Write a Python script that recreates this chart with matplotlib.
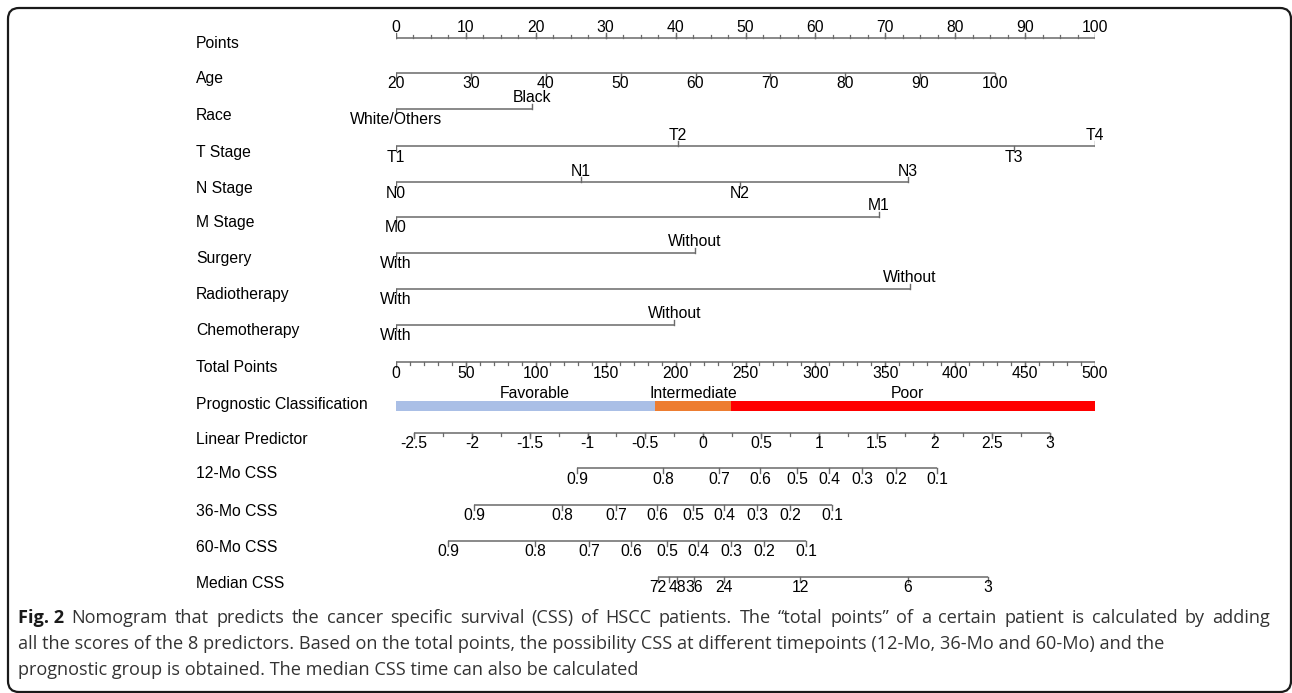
"""
nomogram_css.py - HSCC cancer specific survival nomogram (Fig. 2)
"""
import numpy as np
import matplotlib
matplotlib.use("Agg")
import matplotlib.pyplot as plt
import matplotlib.transforms as mtransforms
from matplotlib.patches import FancyBboxPatch

W, H = 1292, 693

# ---- nomogram data (points 0-100, total points 0-500) ----
points_ticks = np.arange(0, 101, 10)
points_minor = np.arange(0, 100.01, 2.5)

age_ticks = np.arange(20, 101, 10)
age_points_at_100 = 85.7          # age 20 -> 0 points

race_levels = ["White/Others", "Black"]
race_points = [0, 19.5]
t_levels = ["T1", "T2", "T3", "T4"]
t_points = [0, 40.3, 88.4, 100]
n_levels = ["N0", "N1", "N2", "N3"]
n_points = [0, 26.5, 49.2, 73.2]
m_levels = ["M0", "M1"]
m_points = [0, 69.1]
surgery_levels = ["With", "Without"]
surgery_points = [0, 42.8]
radio_levels = ["With", "Without"]
radio_points = [0, 73.5]
chemo_levels = ["With", "Without"]
chemo_points = [0, 39.8]

total_ticks = np.arange(0, 501, 50)
total_minor = np.arange(0, 501, 10)

prog_groups = ["Favorable", "Intermediate", "Poor"]
prog_cuts = [0, 185.3, 239.6, 500]
prog_label_total = [99.4, 212.4, 366.0]
prog_colors = ["#aabfe6", "#ed7d31", "#ff0000"]

lp_ticks = np.arange(-2.5, 3.01, 0.5)
lp_minor = np.arange(-2.5, 3.01, 0.25)
lp_zero_total = 219.7     # total points where linear predictor = 0
total_per_lp = 82.7

css_labels = ["0.9", "0.8", "0.7", "0.6", "0.5", "0.4", "0.3", "0.2", "0.1"]
css12_total = [129.5, 191.0, 231.0, 260.4, 286.8, 309.7, 333.3, 357.7, 387.0]
css36_total = [55.8, 118.7, 157.4, 186.7, 212.4, 234.6, 258.2, 281.8, 311.9]
css60_total = [37.2, 99.4, 138.1, 168.1, 193.8, 216.0, 239.6, 263.2, 293.3]

median_months = [72, 60, 48, 36, 24, 12, 6, 3]
median_shown = [True, False, True, True, True, True, True, True]
median_total = [187.4, 195.3, 201.0, 213.2, 234.6, 289.0, 366.2, 423.5]

caption_bold = "Fig.\u00a02"
caption_lines = [
    "Nomogram that predicts the cancer specific survival (CSS) of HSCC patients. "
    "The \u201ctotal points\u201d of a certain patient is calculated by adding",
    "all the scores of the 8 predictors. Based on the total points, the possibility "
    "CSS at different timepoints (12-Mo, 36-Mo and 60-Mo) and the",
    "prognostic group is obtained. The median CSS time can also be calculated",
]

# ---- layout (pixel rows) ----
ROW_Y = {
    "Points": 38, "Age": 73, "Race": 109, "T Stage": 146, "N Stage": 182,
    "M Stage": 217, "Surgery": 253, "Radiotherapy": 289, "Chemotherapy": 325,
    "Total Points": 362, "Prognostic Classification": 406, "Linear Predictor": 433,
    "12-Mo CSS": 468, "36-Mo CSS": 505, "60-Mo CSS": 541, "Median CSS": 577,
}
LINE = "#6a6a6a"
FS = 11.3
plt.rcParams["font.family"] = ["Liberation Sans", "DejaVu Sans"]

fig = plt.figure(figsize=(W / 100, H / 100), dpi=100)

# pixel axes for frame and caption
fax = fig.add_axes([0, 0, 1, 1])
fax.set_xlim(0, W)
fax.set_ylim(H, 0)
fax.axis("off")

# nomogram axes: x in total points, y in pixel rows
x0_px, x1_px = 396, 1095
ax = fig.add_axes([x0_px / W, 0, (x1_px - x0_px) / W, 1])
ax.set_xlim(0, 500)
ax.set_ylim(H, 0)
ax.axis("off")
ax.patch.set_alpha(0)

label_tr = mtransforms.blended_transform_factory(fig.transFigure, ax.transData)


def hline(xs, y):
    ax.plot([min(xs), max(xs)], [y, y], color=LINE, lw=1.1, solid_capstyle="butt")


def cont_axis(y, xs, labels, minor=None, above=False, tick=5):
    hline(list(xs) + (list(minor) if minor is not None else []), y)
    d = -1 if above else 1
    if minor is not None:
        for x in minor:
            ax.plot([x, x], [y, y + d * 3], color=LINE, lw=0.9)
    for x, lab in zip(xs, labels):
        ax.plot([x, x], [y, y + d * tick], color=LINE, lw=1.0)
        if lab:
            ax.text(x, y + d * 11, lab, ha="center", va="center", fontsize=FS)


def cat_axis(y, pts, levels):
    xs = [p * 5 for p in pts]
    hline(xs, y)
    for i, (x, lab) in enumerate(zip(xs, levels)):
        d = 1 if i % 2 == 0 else -1
        ax.plot([x, x], [y, y + d * 5], color=LINE, lw=1.0)
        ax.text(x, y + d * 11, lab, ha="center", va="center", fontsize=FS)


for name, y in ROW_Y.items():
    ly = y - 2 if name == "Prognostic Classification" else y + 6
    ax.text(196 / W, ly, name, transform=label_tr, ha="left", va="center", fontsize=FS)

# Points
cont_axis(ROW_Y["Points"], points_ticks * 5, [str(v) for v in points_ticks],
          minor=points_minor * 5, above=True)
# Age
age_x = (age_ticks - 20) / 80 * age_points_at_100 * 5
cont_axis(ROW_Y["Age"], age_x, [str(v) for v in age_ticks])
# categorical predictors
cat_axis(ROW_Y["Race"], race_points, race_levels)
cat_axis(ROW_Y["T Stage"], t_points, t_levels)
cat_axis(ROW_Y["N Stage"], n_points, n_levels)
cat_axis(ROW_Y["M Stage"], m_points, m_levels)
cat_axis(ROW_Y["Surgery"], surgery_points, surgery_levels)
cat_axis(ROW_Y["Radiotherapy"], radio_points, radio_levels)
cat_axis(ROW_Y["Chemotherapy"], chemo_points, chemo_levels)
# Total points
cont_axis(ROW_Y["Total Points"], total_ticks, [str(v) for v in total_ticks],
          minor=total_minor)

# Prognostic classification bar
yb = ROW_Y["Prognostic Classification"]
for i, (grp, col) in enumerate(zip(prog_groups, prog_colors)):
    a, b = prog_cuts[i], prog_cuts[i + 1]
    ax.broken_barh([(a, b - a)], (yb - 5, 10), facecolors=col, edgecolor="none")
    ax.text(prog_label_total[i], yb - 12, grp, ha="center", va="center", fontsize=FS)

# Linear predictor
lp_x = lp_zero_total + lp_ticks * total_per_lp
lp_minor_x = lp_zero_total + lp_minor * total_per_lp
cont_axis(ROW_Y["Linear Predictor"], lp_x, [f"{v:g}" for v in lp_ticks],
          minor=lp_minor_x)

# survival probabilities
cont_axis(ROW_Y["12-Mo CSS"], css12_total, css_labels)
cont_axis(ROW_Y["36-Mo CSS"], css36_total, css_labels)
cont_axis(ROW_Y["60-Mo CSS"], css60_total, css_labels)
cont_axis(ROW_Y["Median CSS"], median_total,
          [str(m) if s else "" for m, s in zip(median_months, median_shown)])

# frame
frame = FancyBboxPatch((8, 8), 1283, 684, boxstyle="round,pad=0,rounding_size=11",
                       facecolor="none", edgecolor="#1a1a1a", lw=1.6, clip_on=False)
fax.add_patch(frame)

# caption
cap_font = ["Open Sans", "DejaVu Sans"]
cap_col = "#333333"
renderer = fig.canvas.get_renderer()
probe = fax.text(18, 649, caption_lines[1], fontsize=14, family=cap_font)
wpx = probe.get_window_extent(renderer).width
probe.remove()
cap_fs = 14 * 1150 / wpx

# first line is justified to the right edge of the column
words = [(caption_bold, True)] + [(w, False) for w in caption_lines[0].split()]
arts, widths = [], []
for w, bold in words:
    t = fax.text(0, 623, w, fontsize=cap_fs, family=cap_font, va="baseline",
                 fontweight="bold" if bold else "normal",
                 color="#1a1a1a" if bold else cap_col)
    arts.append(t)
    widths.append(t.get_window_extent(renderer).width)
gap = (1270 - 18 - sum(widths)) / (len(words) - 1)
xpos = 18
for t, wd in zip(arts, widths):
    t.set_x(xpos)
    xpos += wd + gap

fax.text(18, 649, caption_lines[1], fontsize=cap_fs, family=cap_font,
         color=cap_col, va="baseline")
fax.text(18, 675, caption_lines[2], fontsize=cap_fs, family=cap_font,
         color=cap_col, va="baseline")

fig.savefig("out.png", dpi=100)
plt.close(fig)
